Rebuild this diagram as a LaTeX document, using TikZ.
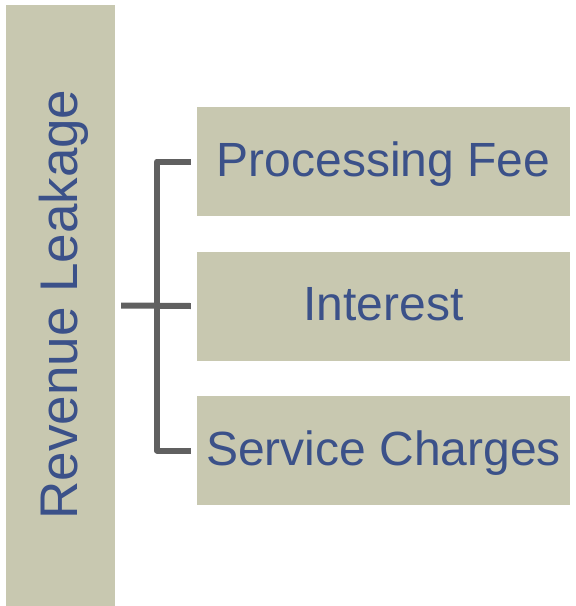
\documentclass[tikz,border=0pt]{standalone}
\usepackage{fontspec}
\setmainfont{Liberation Sans}
\definecolor{boxfill}{RGB}{200,200,176}
\definecolor{txtblue}{RGB}{59,81,137}
\definecolor{lineg}{RGB}{96,96,96}
\begin{document}
\begin{tikzpicture}[x=1pt,y=-1pt,
  catbox/.style={fill=boxfill, draw=none, inner sep=0pt, minimum width=373pt, minimum height=109pt,
    text=txtblue, font=\fontsize{48}{56}\selectfont, text height=34pt, text depth=5pt},
  conn/.style={draw=lineg, line width=6pt, line join=round}]
\useasboundingbox (0,0) rectangle (576,606);
\node[fill=boxfill, inner sep=0pt, minimum width=109pt, minimum height=601pt] (lb) at (60.5,305.5) {};
\node[rotate=90, anchor=base, text=txtblue, inner sep=0pt, font=\fontsize{53}{60}\selectfont] (lt) at (77,304.5) {Revenue Leakage};
\node[catbox] (pf) at (383.5,161.5) {Processing Fee};
\node[catbox] (in) at (383.5,306) {Interest};
\node[catbox] (sc) at (383.5,450.5) {Service Charges};
\coordinate (spine) at (157,306);
\draw[conn] ([xshift=6pt]lb.east) -- ([xshift=-6pt]in.west);
\draw[conn] ([xshift=-6pt]pf.west) -- (pf.west -| spine) -- (sc.west -| spine) -- ([xshift=-6pt]sc.west);
\end{tikzpicture}
\end{document}
